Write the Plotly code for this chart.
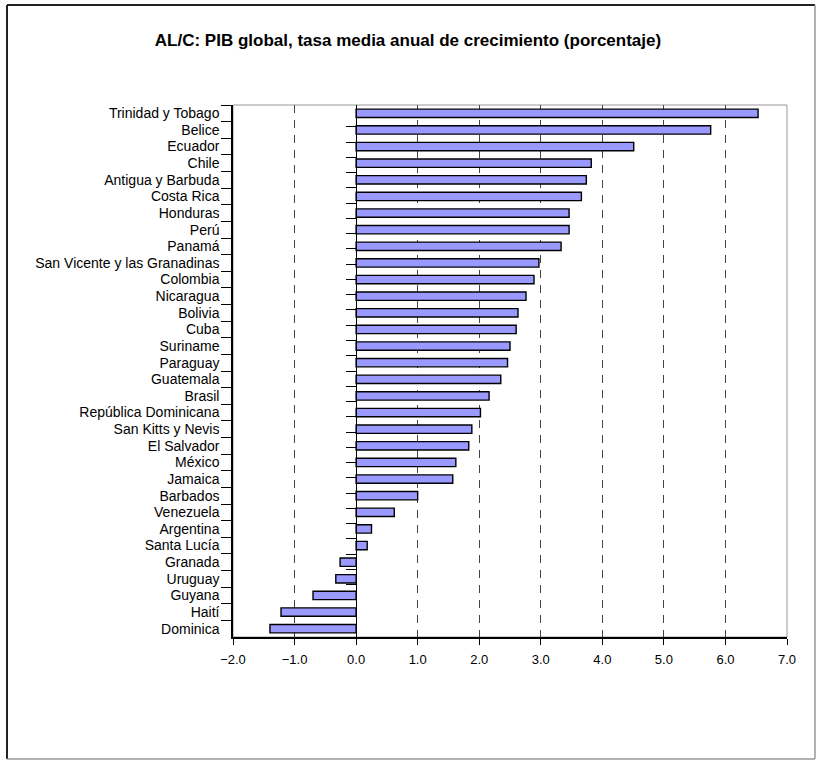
import plotly.graph_objects as go

# Average annual GDP growth rate (%), Latin America and the Caribbean
paises = [
    "Trinidad y Tobago", "Belice", "Ecuador", "Chile", "Antigua y Barbuda",
    "Costa Rica", "Honduras", "Perú", "Panamá", "San Vicente y las Granadinas",
    "Colombia", "Nicaragua", "Bolivia", "Cuba", "Suriname", "Paraguay",
    "Guatemala", "Brasil", "República Dominicana", "San Kitts y Nevis",
    "El Salvador", "México", "Jamaica", "Barbados", "Venezuela", "Argentina",
    "Santa Lucía", "Granada", "Uruguay", "Guyana", "Haití", "Dominica",
]
crecimiento = [
    6.53, 5.76, 4.51, 3.82, 3.74,
    3.66, 3.46, 3.46, 3.33, 2.97,
    2.89, 2.76, 2.63, 2.60, 2.50, 2.46,
    2.35, 2.16, 2.02, 1.88,
    1.83, 1.62, 1.57, 1.00, 0.62, 0.25,
    0.18, -0.26, -0.33, -0.70, -1.22, -1.40,
]
x_ticks = [-2, -1, 0, 1, 2, 3, 4, 5, 6, 7]
titulo = "AL/C: PIB global, tasa media anual de crecimiento (porcentaje)"

FONT = "Liberation Sans, Arial, sans-serif"
W, H = 816, 761
ML, MR, MT, MB = 233, 29, 105, 124
PW, PH = W - ML - MR, H - MT - MB


def px_x(px):
    return (px - ML) / PW


def px_y(py):
    return (H - MB - py) / PH


fig = go.Figure()

fig.add_trace(go.Bar(
    x=crecimiento, y=paises, orientation="h",
    marker=dict(color="#9999FF", line=dict(color="#000000", width=1.4)),
    hoverinfo="x+y", showlegend=False,
))

# helper trace so the category axis drawn on the zero line gets its ticks
fig.add_trace(go.Scatter(
    x=crecimiento, y=paises, yaxis="y2", mode="markers",
    marker=dict(size=1, opacity=0), hoverinfo="skip", showlegend=False,
))

x_min, x_max = x_ticks[0], x_ticks[-1]

fig.update_layout(
    width=W, height=H,
    margin=dict(l=ML, r=MR, t=MT, b=MB, pad=0),
    paper_bgcolor="white", plot_bgcolor="white",
    bargap=0.5,
    title=dict(
        text="<b>" + titulo + "</b>",
        x=0.5, xref="container", xanchor="center",
        y=1 - 40 / H, yref="container", yanchor="middle",
        font=dict(family=FONT, size=17, color="#000000"),
    ),
    xaxis=dict(
        range=[x_min, x_max], tickvals=x_ticks, tickformat=".1f",
        showgrid=True, gridcolor="#444444", gridwidth=1, griddash="8px,7px",
        zeroline=False,
        showline=True, linecolor="#000000", linewidth=1.5,
        ticks="outside", ticklen=6, tickcolor="#000000", tickwidth=1,
        ticklabelstandoff=4,
        tickfont=dict(family=FONT, size=13, color="#000000"),
    ),
    yaxis=dict(
        type="category", autorange="reversed",
        tickmode="linear", tick0=0, dtick=1,
        showgrid=False, zeroline=False,
        showline=True, linecolor="#000000", linewidth=1.5,
        ticks="outside", tickson="boundaries", ticklen=10,
        tickcolor="#000000", tickwidth=1.2,
        ticklabelstandoff=9,
        tickfont=dict(family=FONT, size=14, color="#000000"),
    ),
    yaxis2=dict(
        type="category", autorange="reversed",
        tickmode="linear", tick0=0, dtick=1,
        overlaying="y", anchor="free",
        position=(0 - x_min) / (x_max - x_min), side="left",
        showgrid=False, zeroline=False, showticklabels=False,
        showline=True, linecolor="#000000", linewidth=1,
        ticks="outside", tickson="boundaries", ticklen=10,
        tickcolor="#000000", tickwidth=1.2,
    ),
    shapes=[
        # light frame around the plot area
        dict(type="rect", xref="paper", yref="paper", x0=0, x1=1, y0=0, y1=1,
             line=dict(color="#999999", width=1), layer="below"),
        # outer chart border
        dict(type="line", xref="paper", yref="paper",
             x0=px_x(7), x1=px_x(815), y0=px_y(5), y1=px_y(5),
             line=dict(color="#222222", width=2)),
        dict(type="line", xref="paper", yref="paper",
             x0=px_x(7), x1=px_x(7), y0=px_y(5), y1=px_y(759),
             line=dict(color="#222222", width=2)),
        dict(type="line", xref="paper", yref="paper",
             x0=px_x(7), x1=px_x(815), y0=px_y(759), y1=px_y(759),
             line=dict(color="#999999", width=1.5)),
        dict(type="line", xref="paper", yref="paper",
             x0=px_x(815), x1=px_x(815), y0=px_y(5), y1=px_y(759),
             line=dict(color="#999999", width=1.5)),
    ],
)

fig.write_html("out.html")
